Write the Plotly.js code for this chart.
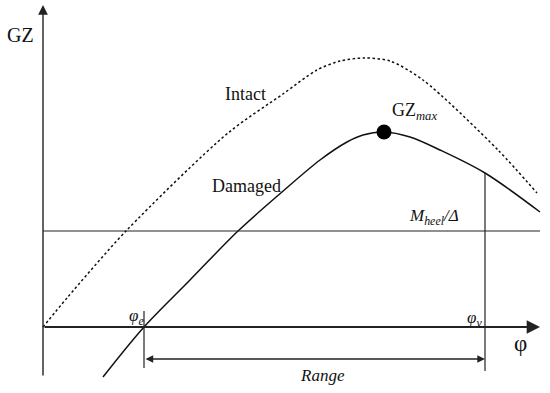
<!DOCTYPE html>
<html>
<head>
<meta charset="utf-8">
<script src="https://cdn.plot.ly/plotly-3.0.1.min.js"></script>
<style>html,body{margin:0;padding:0;background:#fff;}#chart{width:550px;height:393px;}</style>
</head>
<body>
<div id="chart"></div>
<script>
// heel angle (deg) and righting arm GZ (m) – schematic values
const intactPhi = [0, 4.8, 16.6, 37.0, 48.0, 54.8, 59.4, 64.4, 69.4, 76.0, 91.0, 98.8];
const intactGZ  = [0, 0.29, 0.96, 1.94, 2.33, 2.57, 2.66, 2.69, 2.66, 2.47, 1.77, 1.34];
const damagedPhi = [12.0, 20.2, 29.4, 39.0, 47.8, 55.4, 60.8, 64.0, 68.2, 73.4, 79.4, 88.4, 99.4];
const damagedGZ  = [-0.50, 0.00, 0.47, 0.96, 1.35, 1.67, 1.85, 1.92, 1.95, 1.90, 1.77, 1.54, 1.15];
const gzMaxPhi = [68.2];
const gzMaxVal = [1.95];
const heelArm = 0.96;          // M_heel / Δ
const phiE = 20.2;             // equilibrium angle
const phiV = 88.4;             // vanishing angle
const gzAtPhiV = 1.54;
const phiAxisEnd = 99.4;
const gzAxisTop = 3.22;
const gzAxisBottom = -0.50;
const labels = {
  gz: 'GZ', phi: 'φ', intact: 'Intact', damaged: 'Damaged',
  gzmax: 'GZ<sub><i>max</i></sub>', heel: '<i>M<sub>heel</sub>/Δ</i>',
  phie: '<i>φ<sub>e</sub></i>', phiv: '<i>φ<sub>v</sub></i>', range: '<i>Range</i>'
};

const FONT = 'Liberation Serif, DejaVu Serif, serif';
const INK = '#111';

const traces = [
  {x: intactPhi, y: intactGZ, mode: 'lines', line: {color: INK, width: 1.5, dash: '2.5px,2.5px', shape: 'spline', smoothing: 0.8}, hoverinfo: 'skip'},
  {x: damagedPhi, y: damagedGZ, mode: 'lines', line: {color: INK, width: 1.5, shape: 'spline', smoothing: 0.9}, hoverinfo: 'skip'},
  {x: [0, phiAxisEnd], y: [heelArm, heelArm], mode: 'lines', line: {color: '#222', width: 1.2}, hoverinfo: 'skip'},
  {x: [phiV, phiV], y: [gzAtPhiV, -0.44], mode: 'lines', line: {color: '#222', width: 1.2}, hoverinfo: 'skip'},
  {x: [phiE, phiE], y: [0.16, -0.41], mode: 'lines', line: {color: '#222', width: 1.2}, hoverinfo: 'skip'},
  {x: gzMaxPhi, y: gzMaxVal, mode: 'markers', marker: {color: '#000', size: 15}, hoverinfo: 'skip'}
];

function arrow(x, y, ax, ay, opts) {
  return Object.assign({x: x, y: y, ax: ax, ay: ay, xref: 'x', yref: 'y', axref: 'x', ayref: 'y',
    text: '', showarrow: true, arrowhead: 2, arrowsize: 1.4, arrowwidth: 1.6, arrowcolor: '#222', standoff: 0, startstandoff: 0}, opts || {});
}
function label(x, y, text, size, opts) {
  return Object.assign({x: x, y: y, xref: 'x', yref: 'y', text: text, showarrow: false,
    font: {family: FONT, size: size, color: INK}}, opts || {});
}

const annotations = [
  arrow(0, gzAxisTop, 0, gzAxisBottom, {arrowwidth: 1.4}),
  arrow(phiAxisEnd, 0, 0, 0, {arrowwidth: 1.9}),
  arrow(phiV, -0.32, phiE, -0.32, {arrowside: 'end+start', arrowsize: 1.1, arrowwidth: 1.4, arrowhead: 2}),
  label(-4.6, 2.92, labels.gz, 20),
  label(40.4, 2.33, labels.intact, 18),
  label(40.6, 1.41, labels.damaged, 18),
  label(69.4, 2.16, labels.gzmax, 18, {xanchor: 'left'}),
  label(78.2, 1.10, labels.heel, 17),
  label(phiE + 0.4, 0.10, labels.phie, 17, {xanchor: 'right'}),
  label(phiV - 0.2, 0.08, labels.phiv, 17, {xanchor: 'right'}),
  label(95.4, -0.16, labels.phi, 23),
  label(55.8, -0.48, labels.range, 17)
];

const layout = {
  width: 550, height: 393,
  margin: {l: 0, r: 0, t: 0, b: 0},
  paper_bgcolor: '#fff', plot_bgcolor: '#fff',
  showlegend: false,
  xaxis: {range: [-8.6, 101.4], visible: false, fixedrange: true},
  yaxis: {range: [-0.66, 3.27], visible: false, fixedrange: true},
  annotations: annotations
};

Plotly.newPlot('chart', traces, layout, {displayModeBar: false, staticPlot: true});
</script>
</body>
</html>
